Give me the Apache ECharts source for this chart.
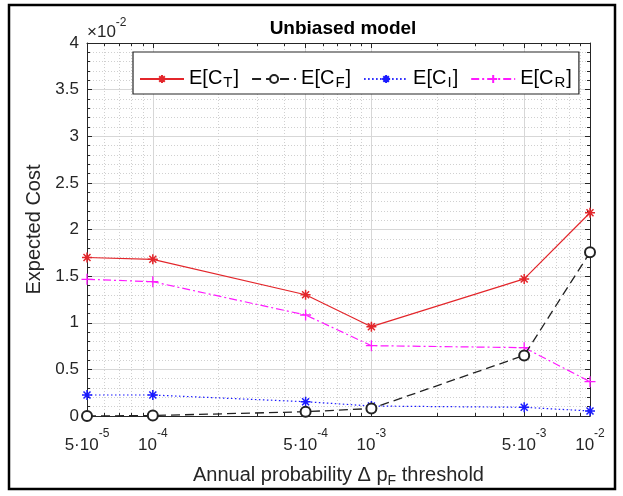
<!DOCTYPE html>
<html><head><meta charset="utf-8">
<script src="https://cdn.jsdelivr.net/npm/echarts@6/dist/echarts.min.js"></script>
<style>html,body{margin:0;padding:0;background:#fff}#c{width:623px;height:496px}</style>
</head><body><div id="c"></div>
<script>
// ---- data ----
const xValues = [5e-5, 1e-4, 5e-4, 1e-3, 5e-3, 1e-2];
const xTickLabels = ['{b|5·10}{s|-5}', '{b|10}{s|-4}', '{b|5·10}{s|-4}', '{b|10}{s|-3}', '{b|5·10}{s|-3}', '{b|10}{s|-2}'];
const xMinorTicks = [6e-5, 7e-5, 8e-5, 9e-5, 2e-4, 3e-4, 4e-4, 6e-4, 7e-4, 8e-4, 9e-4, 2e-3, 3e-3, 4e-3, 6e-3, 7e-3, 8e-3, 9e-3];
const seriesNames = ['E[C_T]', 'E[C_F]', 'E[C_I]', 'E[C_R]'];
const legendLabels = ['{b|E[C}{s|T}{b|]}', '{b|E[C}{s|F}{b|]}', '{b|E[C}{s|I}{b|]}', '{b|E[C}{s|R}{b|]}'];
const costT = [0.01700, 0.01680, 0.01300, 0.00958, 0.01470, 0.02180];
const costF = [0.00000, 0.00005, 0.00046, 0.00080, 0.00650, 0.01755];
const costI = [0.00225, 0.00225, 0.00153, 0.00107, 0.00093, 0.00054];
const costR = [0.01466, 0.01440, 0.01083, 0.00754, 0.00733, 0.00368];

const txt = '#262626';
const ff = '"Liberation Sans", Arial, sans-serif';
const asterisk = 'path://M0,5L10,5M5,0L5,10M1.5,1.5L8.5,8.5M8.5,1.5L1.5,8.5';
const plus = 'path://M0,5L10,5M5,0L5,10';

function pairs(ys) { return xValues.map((x, i) => [x, ys[i]]); }
function labelFor(v) {
  for (let i = 0; i < xValues.length; i++) {
    if (Math.abs(Math.log10(v) - Math.log10(xValues[i])) < 0.01) return xTickLabels[i];
  }
  return '';
}
const supRich = {
  b: {fontSize: 17, lineHeight: 26, verticalAlign: 'bottom', color: txt, fontFamily: ff},
  s: {fontSize: 12, lineHeight: 12, verticalAlign: 'top', color: txt, fontFamily: ff}
};
const subRich = {
  b: {fontSize: 20, lineHeight: 22, verticalAlign: 'top', color: '#000', fontFamily: ff},
  s: {fontSize: 15, lineHeight: 15, padding: [19, 1, 0, 1], verticalAlign: 'bottom', color: '#000', fontFamily: ff}
};

const baseX = {type: 'log', logBase: 10, min: 5e-5, max: 1e-2, gridIndex: 0};
const chart = echarts.init(document.getElementById('c'));
chart.setOption({
  animation: false,
  backgroundColor: '#fff',
  title: {text: 'Unbiased model', left: 338, textAlign: 'center', top: 14,
    textStyle: {fontSize: 19, fontWeight: 'bold', color: '#000', fontFamily: ff}},
  grid: {left: 87, right: 33, top: 43, bottom: 80, show: false},
  legend: {
    data: seriesNames, left: 133, top: 52, orient: 'horizontal',
    itemWidth: 44, itemHeight: 10, itemGap: 12,
    backgroundColor: '#fff', borderColor: txt, borderWidth: 1.2, borderRadius: 0,
    padding: [4, 7, 4, 6],
    formatter: n => legendLabels[seriesNames.indexOf(n)],
    textStyle: {fontSize: 20, color: '#000', fontFamily: ff, rich: subRich}
  },
  graphic: [
    {type: 'rect', shape: {x: 9, y: 5, width: 606, height: 484}, style: {fill: 'none', stroke: '#000', lineWidth: 2.5}, silent: true},
    {type: 'text', left: 87, top: 17, style: {text: '{b|×10}{s|-2}', fill: txt, fontFamily: ff,
      rich: {b: {fontSize: 17, lineHeight: 24, verticalAlign: 'bottom', fill: txt, fontFamily: ff},
             s: {fontSize: 12, lineHeight: 9, verticalAlign: 'top', fill: txt, fontFamily: ff}}}}
  ],
  xAxis: [
    Object.assign({}, baseX, {
      position: 'bottom',
      axisLine: {show: true, lineStyle: {color: txt, width: 1}},
      axisTick: {show: true, inside: true, length: 5, customValues: xValues, lineStyle: {color: txt}},
      axisLabel: {customValues: xValues, margin: 12, formatter: v => labelFor(v), rich: supRich, color: txt},
      splitLine: {show: true, lineStyle: {color: '#d7d7d7', width: 1}},
      name: '{b|Annual probability Δ p}{s|F}{b| threshold}', nameLocation: 'middle', nameGap: 40,
      nameTextStyle: {fontSize: 20, color: txt, fontFamily: ff,
        rich: {b: {fontSize: 20, lineHeight: 22, verticalAlign: 'top', color: txt, fontFamily: ff},
               s: {fontSize: 14, lineHeight: 14, padding: [15, 0, 0, 0], verticalAlign: 'bottom', color: txt, fontFamily: ff}}}
    }),
    Object.assign({}, baseX, {
      position: 'bottom',
      axisLine: {show: false}, axisLabel: {show: false},
      axisTick: {show: true, inside: true, length: 3, customValues: xMinorTicks, lineStyle: {color: txt}},
      splitLine: {show: true, lineStyle: {color: '#d0d0d0', type: [1, 2], width: 1}}
    }),
    Object.assign({}, baseX, {
      position: 'top',
      axisLine: {show: true, lineStyle: {color: txt, width: 1}}, axisLabel: {show: false},
      axisTick: {show: true, inside: true, length: 5, customValues: xValues, lineStyle: {color: txt}},
      splitLine: {show: false}
    }),
    Object.assign({}, baseX, {
      position: 'top',
      axisLine: {show: false}, axisLabel: {show: false},
      axisTick: {show: true, inside: true, length: 3, customValues: xMinorTicks, lineStyle: {color: txt}},
      splitLine: {show: false}
    })
  ],
  yAxis: [
    {type: 'value', min: 0, max: 0.04, interval: 0.005, position: 'left',
      axisLine: {show: true, lineStyle: {color: txt}},
      axisTick: {show: true, inside: true, length: 5, lineStyle: {color: txt}},
      minorTick: {show: true, splitNumber: 5, length: 3, lineStyle: {color: txt}},
      axisLabel: {fontSize: 17, color: txt, fontFamily: ff, margin: 8,
        formatter: v => String(Math.round(v * 1000) / 10)},
      splitLine: {show: true, lineStyle: {color: '#d7d7d7'}},
      minorSplitLine: {show: true, lineStyle: {color: '#d0d0d0', type: [1, 2]}},
      name: 'Expected Cost', nameLocation: 'middle', nameGap: 36,
      nameTextStyle: {fontSize: 20, color: txt, fontFamily: ff}},
    {type: 'value', min: 0, max: 0.04, interval: 0.005, position: 'right',
      axisLine: {show: true, lineStyle: {color: txt}},
      axisTick: {show: true, inside: true, length: 5, lineStyle: {color: txt}},
      minorTick: {show: true, splitNumber: 5, length: 3, lineStyle: {color: txt}},
      axisLabel: {show: false}, splitLine: {show: false}}
  ],
  series: [
    {name: seriesNames[0], type: 'line', data: pairs(costT), symbol: asterisk, symbolSize: 10,
      lineStyle: {color: '#e3262b', width: 1.2, type: 'solid'},
      itemStyle: {color: '#e3262b', borderColor: '#e3262b', borderWidth: 1.5}, z: 5},
    {name: seriesNames[1], type: 'line', data: pairs(costF), symbol: 'emptyCircle', symbolSize: 10,
      lineStyle: {color: '#222', width: 1.3, type: [9, 5]},
      itemStyle: {color: '#222', borderColor: '#222', borderWidth: 1.2}, z: 4},
    {name: seriesNames[2], type: 'line', data: pairs(costI), symbol: asterisk, symbolSize: 10,
      lineStyle: {color: '#1a1aff', width: 1.2, type: [1.5, 2.5]},
      itemStyle: {color: '#1a1aff', borderColor: '#1a1aff', borderWidth: 1.5}, z: 3},
    {name: seriesNames[3], type: 'line', data: pairs(costR), symbol: plus, symbolSize: 11,
      lineStyle: {color: '#ff1aff', width: 1.2, type: [8, 3, 2, 3]},
      itemStyle: {color: '#ff1aff', borderColor: '#ff1aff', borderWidth: 1.3}, z: 3}
  ]
});
</script></body></html>
